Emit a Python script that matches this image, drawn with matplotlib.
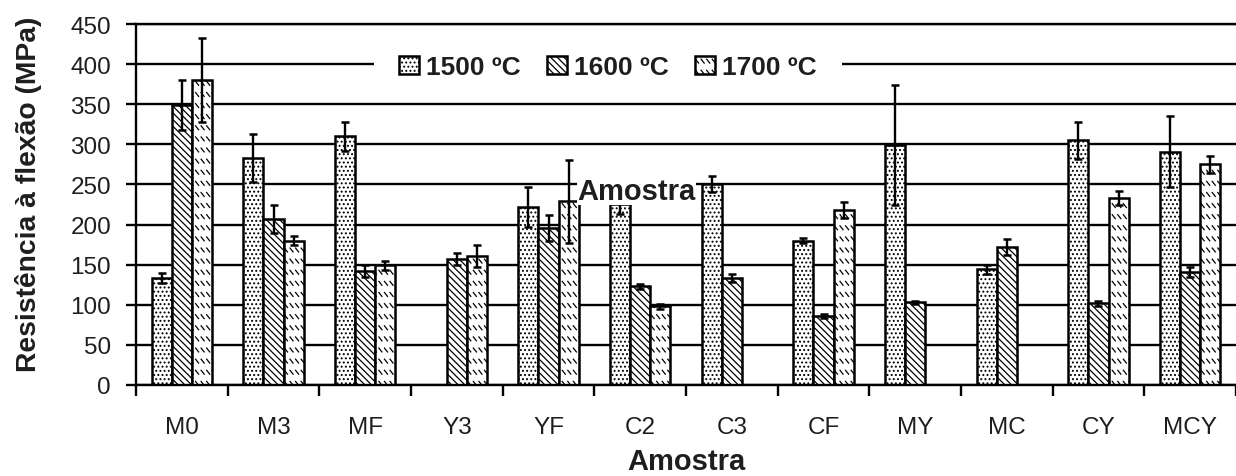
import numpy as np
import matplotlib
matplotlib.use("Agg")
import matplotlib.pyplot as plt
import matplotlib.hatch as mhatch
from matplotlib.path import Path

# ---- data -------------------------------------------------------------
categories = ['M0', 'M3', 'MF', 'Y3', 'YF', 'C2', 'C3', 'CF', 'MY', 'MC', 'CY', 'MCY']
series_labels = ['1500 ºC', '1600 ºC', '1700 ºC']

s1500 = [133, 283, 310, np.nan, 222, 226, 250, 180, 299, 144, 305, 291]
e1500 = [6, 30, 18, 0, 25, 13, 10, 3, 75, 6, 23, 44]
s1600 = [349, 207, 142, 157, 196, 123, 133, 86, 103, 172, 102, 141]
e1600 = [31, 17, 7, 8, 16, 3, 5, 2, 2, 10, 3, 6]
s1700 = [380, 180, 149, 161, 229, 98, np.nan, 218, np.nan, np.nan, 233, 275]
e1700 = [52, 6, 6, 14, 52, 3, 0, 10, 0, 0, 9, 11]

yticks = [0, 50, 100, 150, 200, 250, 300, 350, 400, 450]


# ---- short slanted dash hatch (bound to the '*' character) ------------
class ShortDashes(mhatch.HatchPatternBase):
    def __init__(self, hatch, density):
        n = hatch.count('*')
        self.rows = int(round(n * density * 1.5))
        self.cols = int(round(n * density * 3))
        self.num_vertices = self.rows * self.cols * 2

    def set_vertices_and_codes(self, vertices, codes):
        w = 0.55 / self.cols
        h = 0.35 / self.rows
        k = 0
        for r in range(self.rows):
            yc = (r + 0.5) / self.rows
            for c in range(self.cols):
                x0 = (c + 0.2) / self.cols
                vertices[k] = (x0, yc + h / 2)
                vertices[k + 1] = (x0 + w, yc - h / 2)
                codes[k] = Path.MOVETO
                codes[k + 1] = Path.LINETO
                k += 2


mhatch._hatch_types[:] = [t for t in mhatch._hatch_types
                          if t is not mhatch.Stars] + [ShortDashes]

plt.rcParams['font.family'] = ['Liberation Sans', 'DejaVu Sans']
plt.rcParams['hatch.linewidth'] = 0.9
plt.rcParams['hatch.color'] = 'black'

TEXT = '#1e1e1e'

fig = plt.figure(figsize=(12.36, 4.77), dpi=100)
ax = fig.add_axes([136 / 1236, 91 / 477, 1100 / 1236, 361 / 477])

x = np.arange(len(categories))
width = 0.22
hatches = ['....', '\\\\\\\\\\', '*']
series = [(s1500, e1500), (s1600, e1600), (s1700, e1700)]

handles = []
for i, ((vals, errs), hatch, lab) in enumerate(zip(series, hatches, series_labels)):
    vals = np.asarray(vals, dtype=float)
    errs = np.asarray(errs, dtype=float)
    m = ~np.isnan(vals)
    pos = x[m] + (i - 1) * width
    b = ax.bar(pos, vals[m], width, facecolor='white', edgecolor='black',
               linewidth=1.8, hatch=hatch, label=lab, zorder=2)
    ax.errorbar(pos, vals[m], yerr=errs[m], fmt='none', ecolor='black',
                elinewidth=1.7, capsize=3, capthick=1.8, zorder=3)
    handles.append(b)

ax.set_xlim(-0.5, 11.405)
ax.set_ylim(0, 450)
ax.set_yticks(yticks)

# category boundaries carry the tick marks, centres carry the labels
ax.set_xticks(np.arange(len(categories) + 1) - 0.5)
ax.set_xticklabels([])
ax.set_xticks(x, minor=True)
ax.set_xticklabels(categories, minor=True)
ax.tick_params(axis='x', which='major', direction='out', length=8, width=1.7, color='black')
ax.tick_params(axis='x', which='minor', length=0, pad=22, labelsize=17.5, labelcolor=TEXT)
ax.tick_params(axis='y', direction='out', length=7, width=1.7, pad=11,
               labelsize=17.5, labelcolor=TEXT)

ax.grid(axis='y', color='black', linewidth=1.7)
ax.set_axisbelow(True)
for side in ['left', 'bottom', 'top']:
    ax.spines[side].set_linewidth(1.7)
    ax.spines[side].set_color('black')
ax.spines['right'].set_visible(False)

ax.set_xlabel('Amostra', fontsize=21, fontweight='bold', labelpad=7, color=TEXT)
ax.set_ylabel('Resistência à flexão (MPa)', fontsize=20.3, fontweight='bold', color=TEXT)
ax.yaxis.set_label_coords(-0.085, 0.53)

ax.text(4.96, 242, 'Amostra', fontsize=21, fontweight='bold', color=TEXT,
        ha='center', va='center', zorder=6,
        bbox=dict(facecolor='white', edgecolor='none', pad=0))

leg = ax.legend(handles=handles, loc='center', bbox_to_anchor=(0.429, 0.881),
                ncol=3, prop={'weight': 'bold', 'size': 19},
                handlelength=0.76, handleheight=0.68, handletextpad=0.27,
                columnspacing=0.98, borderpad=0.5, frameon=True, fancybox=False)
for t in leg.get_texts():
    t.set_color(TEXT)
frame = leg.get_frame()
frame.set_facecolor('white')
frame.set_edgecolor('none')
frame.set_alpha(1)


def wide_box(x0, y0, w, h, mutation_size):
    ex = 0.45 * mutation_size
    x0 -= ex
    w += 2 * ex
    return Path([(x0, y0), (x0 + w, y0), (x0 + w, y0 + h), (x0, y0 + h), (x0, y0)],
                closed=True)


frame.set_boxstyle(wide_box)
leg.set_zorder(5)

fig.savefig('out.png', dpi=100, facecolor='white')
